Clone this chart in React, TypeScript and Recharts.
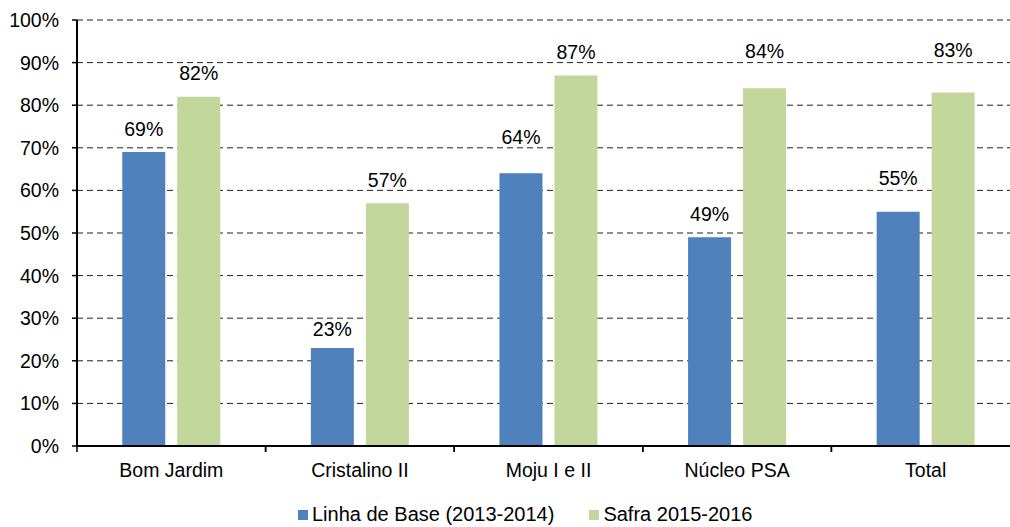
import React from 'react';
import { BarChart, Bar, XAxis, YAxis, CartesianGrid, LabelList } from 'recharts';

const categories = ['Bom Jardim', 'Cristalino II', 'Moju I e II', 'Núcleo PSA', 'Total'];
const linhaDeBase = [69, 23, 64, 49, 55];
const safra = [82, 57, 87, 84, 83];
const yTicks = [0, 10, 20, 30, 40, 50, 60, 70, 80, 90, 100];

const seriesNames = ['Linha de Base (2013-2014)', 'Safra 2015-2016'];
const colors = ['#4F81BD', '#C3D69B'];

// gap (px) between bar top and label baseline, as placed in the original
const baseLabelGap = [16, 12, 29, 16, 27];
const safraLabelGap = [17, 16, 16, 30, 35];

const data = categories.map((name, i) => ({
  name,
  base: linhaDeBase[i],
  safra: safra[i],
}));

const FONT = '"Liberation Sans", Arial, sans-serif';
const CHART_W = 1030;
const CHART_H = 527;
const LEFT = 77;
const RIGHT_MARGIN = 10;
const halfBand = (CHART_W - LEFT - RIGHT_MARGIN) / categories.length / 2;

const XTick = (props: any) => {
  const { x, y, payload } = props;
  return (
    <g>
      <line x1={x - halfBand} x2={x - halfBand} y1={446} y2={452} stroke="#000" strokeWidth={1.5} />
      <line x1={x + halfBand} x2={x + halfBand} y1={446} y2={452} stroke="#000" strokeWidth={1.5} />
      <text x={x} y={477} textAnchor="middle" fontSize={19.5} fontFamily={FONT} fill="#000">
        {payload.value}
      </text>
    </g>
  );
};

const makeLabel = (gaps: number[]) => (props: any) => {
  const { x, y, width, value, index } = props;
  return (
    <text
      x={Number(x) + Number(width) / 2}
      y={Number(y) - gaps[index]}
      textAnchor="middle"
      fontSize={19.5}
      fontFamily={FONT}
      fill="#000"
    >
      {`${value}%`}
    </text>
  );
};

const App: React.FC = () => {
  return (
    <div
      style={{
        position: 'absolute',
        left: 0,
        top: 0,
        width: 1010,
        height: 527,
        overflow: 'hidden',
        background: '#fff',
        fontFamily: FONT,
      }}
    >
      <BarChart
        width={CHART_W}
        height={CHART_H}
        data={data}
        margin={{ top: 20, right: RIGHT_MARGIN, left: 0, bottom: 51 }}
        barCategoryGap="24%"
        barGap={12}
      >
        <CartesianGrid vertical={false} stroke="#222" strokeDasharray="6 4" strokeWidth={1} />
        <XAxis
          dataKey="name"
          height={30}
          axisLine={{ stroke: '#000', strokeWidth: 2 }}
          tickLine={false}
          tick={<XTick />}
          interval={0}
        />
        <YAxis
          width={LEFT}
          domain={[0, 100]}
          ticks={yTicks}
          interval={0}
          tickFormatter={(v: number) => `${v}%`}
          axisLine={{ stroke: '#000', strokeWidth: 2 }}
          tickLine={{ stroke: '#000', strokeWidth: 1.5 }}
          tickSize={5}
          tickMargin={13}
          tick={{ fontSize: 19.5, fontFamily: FONT, fill: '#000' }}
        />
        <Bar dataKey="base" fill={colors[0]} isAnimationActive={false}>
          <LabelList dataKey="base" content={makeLabel(baseLabelGap)} />
        </Bar>
        <Bar dataKey="safra" fill={colors[1]} isAnimationActive={false}>
          <LabelList dataKey="safra" content={makeLabel(safraLabelGap)} />
        </Bar>
      </BarChart>
      <div
        style={{
          position: 'absolute',
          top: 503,
          left: 298,
          display: 'flex',
          alignItems: 'center',
          fontSize: 20,
          color: '#000',
          whiteSpace: 'nowrap',
        }}
      >
        {seriesNames.map((s, i) => (
          <div key={s} style={{ display: 'flex', alignItems: 'center', marginRight: i === 0 ? 35 : 0 }}>
            <span style={{ width: 10, height: 10, background: colors[i], marginRight: 4, display: 'inline-block' }} />
            <span>{s}</span>
          </div>
        ))}
      </div>
    </div>
  );
};

export default App;
